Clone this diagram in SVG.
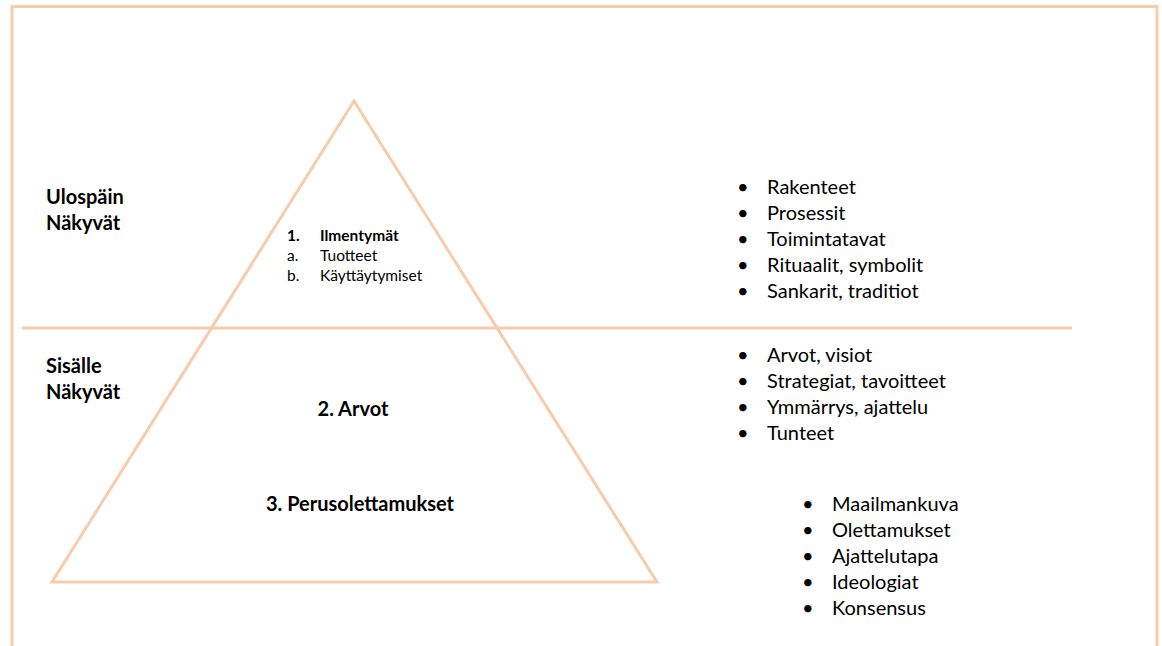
<svg xmlns="http://www.w3.org/2000/svg" width="1162" height="646" viewBox="0 0 1162 646">
<style>
.ln{fill:none;stroke:#F8CBAD;stroke-width:3}
text{font-family:Lato,"Open Sans","Liberation Sans",sans-serif;fill:#000}
.b{font-weight:bold;font-size:20px}
.s{font-size:15.5px}
.sb{font-size:15.5px;font-weight:bold}
.r{font-size:20px}
</style>
<rect width="1162" height="646" fill="#fff"/>
<g id="frame">
<polyline class="ln" points="12,646 12,6.5 1157,6.5 1157,646"/>
</g>
<g id="connectors">
<line class="ln" x1="22" y1="328" x2="1072" y2="328"/>
</g>
<g id="pyramid">
<polygon class="ln" points="354,101 52,582 657,582"/>
</g>
<g id="label-ulospain">
<text class="b" x="46" y="204">Ulospäin</text>
<text class="b" x="46" y="230">Näkyvät</text>
</g>
<g id="label-sisalle">
<text class="b" x="46" y="373">Sisälle</text>
<text class="b" x="46" y="399">Näkyvät</text>
</g>
<g id="level1">
<text class="sb" x="287" y="241">1.</text>
<text class="sb" x="320" y="241">Ilmentymät</text>
<text class="s" x="287" y="261">a.</text>
<text class="s" x="320" y="261">Tuotteet</text>
<text class="s" x="287" y="281">b.</text>
<text class="s" x="320" y="281">Käyttäytymiset</text>
</g>
<g id="level2">
<text class="b" x="353" y="416" text-anchor="middle">2. Arvot</text>
</g>
<g id="level3">
<text class="b" x="360" y="511" text-anchor="middle">3. Perusolettamukset</text>
</g>
<g id="list1">
<text class="r" x="737" y="194">•</text><text class="r" x="767" y="194">Rakenteet</text>
<text class="r" x="737" y="220">•</text><text class="r" x="767" y="220">Prosessit</text>
<text class="r" x="737" y="246">•</text><text class="r" x="767" y="246">Toimintatavat</text>
<text class="r" x="737" y="272">•</text><text class="r" x="767" y="272">Rituaalit, symbolit</text>
<text class="r" x="737" y="298">•</text><text class="r" x="767" y="298">Sankarit, traditiot</text>
</g>
<g id="list2">
<text class="r" x="737" y="362">•</text><text class="r" x="767" y="362">Arvot, visiot</text>
<text class="r" x="737" y="388">•</text><text class="r" x="767" y="388">Strategiat, tavoitteet</text>
<text class="r" x="737" y="414">•</text><text class="r" x="767" y="414">Ymmärrys, ajattelu</text>
<text class="r" x="737" y="440">•</text><text class="r" x="767" y="440">Tunteet</text>
</g>
<g id="list3">
<text class="r" x="802" y="511">•</text><text class="r" x="832" y="511">Maailmankuva</text>
<text class="r" x="802" y="537">•</text><text class="r" x="832" y="537">Olettamukset</text>
<text class="r" x="802" y="563">•</text><text class="r" x="832" y="563">Ajattelutapa</text>
<text class="r" x="802" y="589">•</text><text class="r" x="832" y="589">Ideologiat</text>
<text class="r" x="802" y="615">•</text><text class="r" x="832" y="615">Konsensus</text>
</g>
</svg>
